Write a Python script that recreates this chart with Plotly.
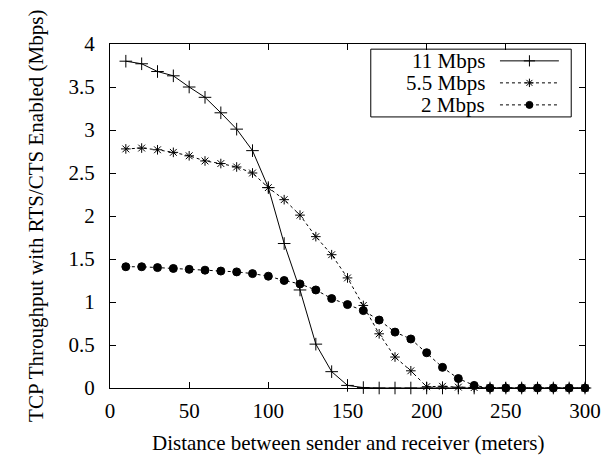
import plotly.graph_objects as go

distance = list(range(10, 310, 10))

tput_11 = [3.80, 3.77, 3.68, 3.63, 3.50, 3.38, 3.20, 3.01, 2.76, 2.33,
           1.68, 1.14, 0.51, 0.19, 0.03, 0.005, 0.0, 0.0, 0.0, 0.0,
           0.0, 0.0, 0.0, 0.0, 0.0, 0.0, 0.0, 0.0, 0.0, 0.0]
tput_55 = [2.78, 2.79, 2.77, 2.74, 2.70, 2.64, 2.61, 2.57, 2.50, 2.33,
           2.19, 2.01, 1.76, 1.55, 1.28, 0.96, 0.63, 0.36, 0.20, 0.015,
           0.02, 0.01, 0.005, 0.0, 0.0, 0.0, 0.0, 0.0, 0.0, 0.0]
tput_2 = [1.41, 1.41, 1.40, 1.39, 1.38, 1.37, 1.36, 1.35, 1.33, 1.30,
          1.25, 1.21, 1.14, 1.04, 0.97, 0.90, 0.79, 0.65, 0.57, 0.41,
          0.24, 0.11, 0.03, 0.0, 0.0, 0.0, 0.0, 0.0, 0.0, 0.0]

series_names = ["11 Mbps", "5.5 Mbps", "2 Mbps"]
x_ticks = [0, 50, 100, 150, 200, 250, 300]
y_ticks = [0, 0.5, 1, 1.5, 2, 2.5, 3, 3.5, 4]
x_title = "Distance between sender and receiver (meters)"
y_title = "TCP Throughput with RTS/CTS Enabled (Mbps)"

FONT = "Liberation Serif"
FS = 21
styles = [
    dict(dash="solid", symbol="cross-thin-open", size=9),
    dict(dash="dot", symbol="asterisk-open", size=8),
    dict(dash="3px,3px", symbol="circle", size=8),
]
data = [tput_11, tput_55, tput_2]

fig = go.Figure()
for name, ys, st in zip(series_names, data, styles):
    fig.add_trace(go.Scatter(
        x=distance, y=ys, mode="lines+markers", name=name, showlegend=False,
        line=dict(color="black", width=1, dash=st["dash"]),
        marker=dict(symbol=st["symbol"], size=st["size"], color="black",
                    line=dict(color="black", width=1)),
        cliponaxis=False,
    ))

# custom gnuplot-style legend (text right, sample left)
row_y = [0.951, 0.887, 0.823]
for name, st, ry in zip(series_names, styles, row_y):
    fig.add_trace(go.Scatter(
        x=[0.821, 0.945], y=[ry, ry], mode="lines", xaxis="x2", yaxis="y2",
        showlegend=False, hoverinfo="skip",
        line=dict(color="black", width=1, dash=st["dash"])))
    fig.add_trace(go.Scatter(
        x=[0.883], y=[ry], mode="markers", xaxis="x2", yaxis="y2",
        showlegend=False, hoverinfo="skip",
        marker=dict(symbol=st["symbol"], size=st["size"] - 1, color="black",
                    line=dict(color="black", width=1))))
    fig.add_annotation(x=0.794, y=ry, xref="paper", yref="paper", text=name,
                       showarrow=False, xanchor="right", yanchor="middle",
                       font=dict(family=FONT, size=FS, color="black"))

fig.add_shape(type="rect", xref="paper", yref="paper",
              x0=0.549, x1=0.971, y0=0.788, y1=0.985,
              line=dict(color="black", width=1), fillcolor="white", layer="below")

# axis titles
fig.add_annotation(x=0.5, y=-0.160, xref="paper", yref="paper", text=x_title,
                   showarrow=False, xanchor="center", yanchor="middle",
                   font=dict(family=FONT, size=FS, color="black"))
fig.add_annotation(x=-0.156, y=0.5, xref="paper", yref="paper", text=y_title,
                   textangle=-90, showarrow=False, xanchor="center", yanchor="middle",
                   font=dict(family=FONT, size=FS, color="black"))

axis_common = dict(
    showline=True, linecolor="black", linewidth=1, mirror="ticks",
    ticks="inside", ticklen=6, tickcolor="black", tickwidth=1,
    showgrid=False, zeroline=False, automargin=False,
    tickfont=dict(family=FONT, size=FS, color="black"),
)

# page body has an 8px margin, so the figure is sized/offset to compensate
fig.update_layout(
    width=605, height=448,
    margin=dict(l=102, r=28, t=36, b=68),
    paper_bgcolor="white", plot_bgcolor="white",
    xaxis=dict(range=[0, 300], tickvals=x_ticks, ticklabelstandoff=4, **axis_common),
    yaxis=dict(range=[0, 4], tickvals=y_ticks, ticklabelstandoff=10, **axis_common),
    xaxis2=dict(range=[0, 1], overlaying="x", visible=False, anchor="y2"),
    yaxis2=dict(range=[0, 1], overlaying="y", visible=False, anchor="x2"),
    showlegend=False,
)

fig.write_html("out.html")
